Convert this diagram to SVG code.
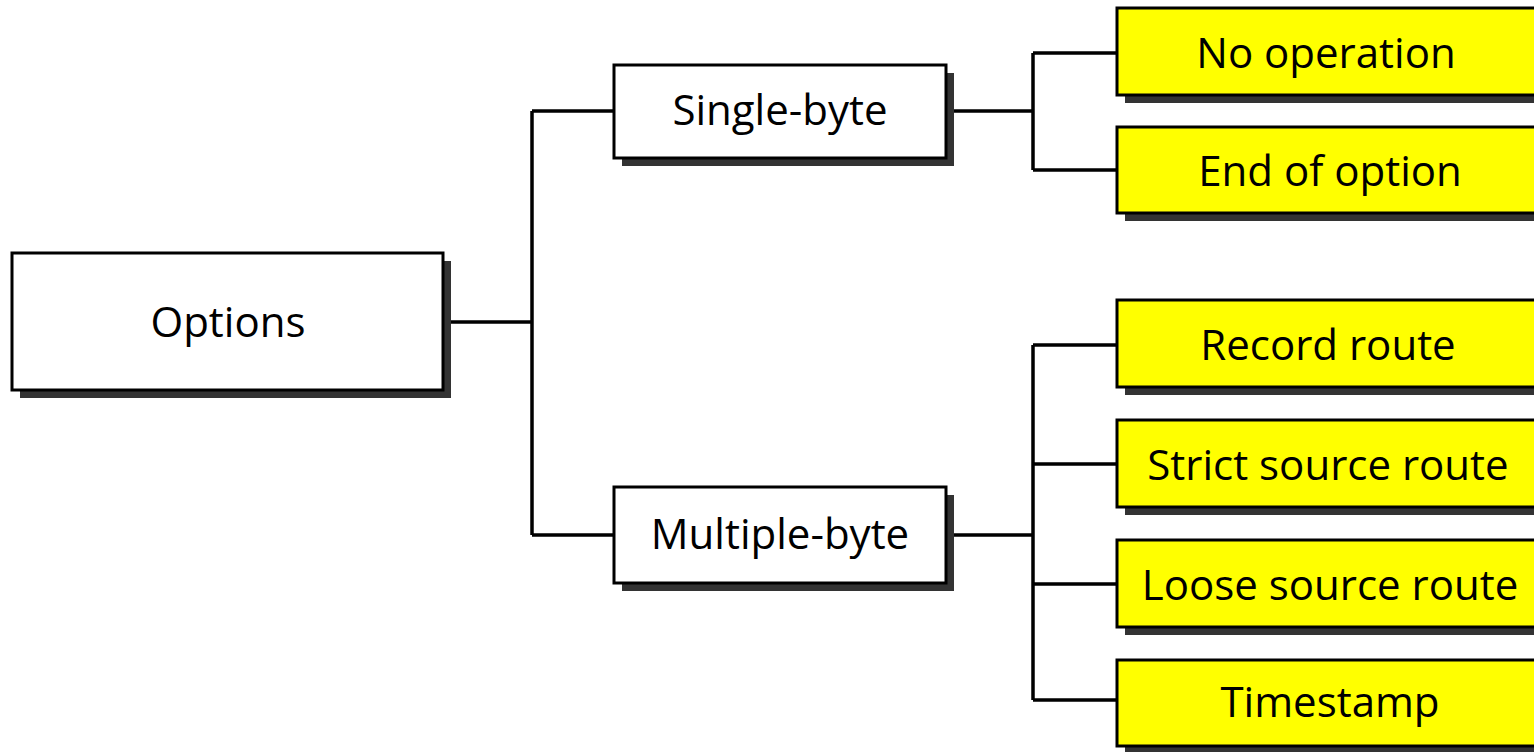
<svg xmlns="http://www.w3.org/2000/svg" width="1534" height="752" viewBox="0 0 1534 752">
<style>
.box{stroke:#000;stroke-width:3}
.w{fill:#fff}
.y{fill:#ffff00}
.sh{fill:#333}
.t{font-family:"Open Sans","Liberation Sans",sans-serif;font-size:42px;fill:#000;text-anchor:middle}
.c{stroke:#000;stroke-width:3.5;fill:none}
</style>
<rect width="1534" height="752" fill="#fff"/>
<g id="connectors">
<path class="c" d="M443 322H532M532 111V535M532 111H614M532 535H614"/>
<path class="c" d="M946 111H1033M1033 53V170M1033 53H1117M1033 170H1117"/>
<path class="c" d="M946 535H1033M1033 345V700M1033 345H1117M1033 464H1117M1033 584H1117M1033 700H1117"/>
</g>
<g id="options">
<rect class="sh" x="20" y="261" width="431" height="137"/>
<rect class="box w" x="12" y="253" width="431" height="137"/>
<text class="t" x="228" y="337">Options</text>
</g>
<g id="single-byte">
<rect class="sh" x="622" y="73" width="332" height="93"/>
<rect class="box w" x="614" y="65" width="332" height="93"/>
<text class="t" x="780" y="125">Single-byte</text>
</g>
<g id="multiple-byte">
<rect class="sh" x="622" y="495" width="332" height="96"/>
<rect class="box w" x="614" y="487" width="332" height="96"/>
<text class="t" x="780" y="549">Multiple-byte</text>
</g>
<g id="no-operation">
<rect class="sh" x="1125" y="16" width="420" height="87"/>
<rect class="box y" x="1117" y="8" width="420" height="87"/>
<text class="t" x="1326" y="68">No operation</text>
</g>
<g id="end-of-option">
<rect class="sh" x="1125" y="135" width="420" height="86"/>
<rect class="box y" x="1117" y="127" width="420" height="86"/>
<text class="t" x="1330" y="186">End of option</text>
</g>
<g id="record-route">
<rect class="sh" x="1125" y="308" width="420" height="87"/>
<rect class="box y" x="1117" y="300" width="420" height="87"/>
<text class="t" x="1328" y="360">Record route</text>
</g>
<g id="strict-source-route">
<rect class="sh" x="1125" y="428" width="420" height="87"/>
<rect class="box y" x="1117" y="420" width="420" height="87"/>
<text class="t" x="1328" y="480">Strict source route</text>
</g>
<g id="loose-source-route">
<rect class="sh" x="1125" y="548" width="420" height="87"/>
<rect class="box y" x="1117" y="540" width="420" height="87"/>
<text class="t" x="1330" y="600">Loose source route</text>
</g>
<g id="timestamp">
<rect class="sh" x="1125" y="668" width="420" height="86"/>
<rect class="box y" x="1117" y="660" width="420" height="86"/>
<text class="t" x="1330" y="717">Timestamp</text>
</g>
</svg>
